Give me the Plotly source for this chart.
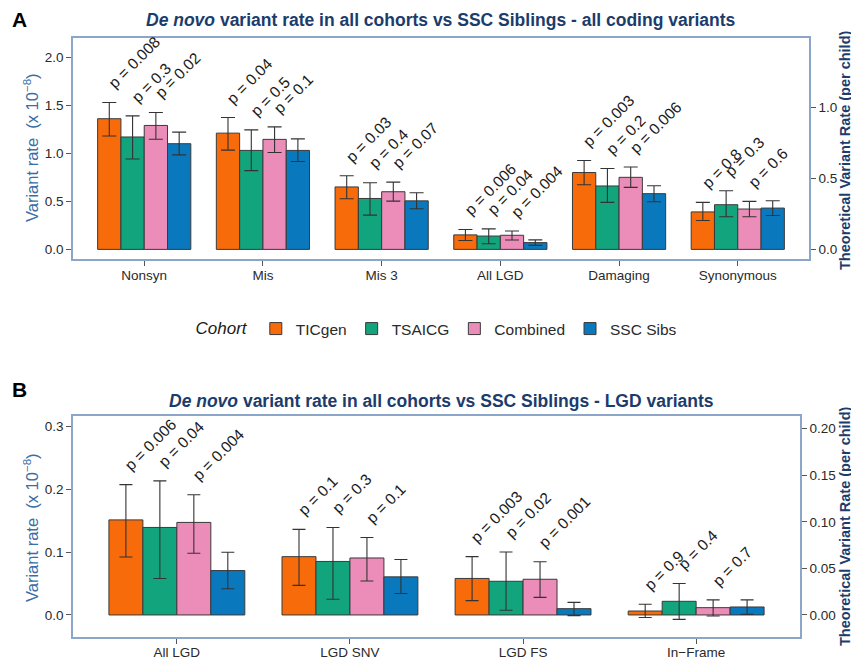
import plotly.graph_objects as go

# ---------------- data ----------------
cohorts = ["TICgen", "TSAICG", "Combined", "SSC Sibs"]
colors = ["#F76B0A", "#12A47C", "#EC8DB9", "#0A78BC"]

# Panel A: all coding variants
cats_A = ["Nonsyn", "Mis", "Mis 3", "All LGD", "Damaging", "Synonymous"]
rate_A_TICgen   = [1.36, 1.21, 0.65, 0.151, 0.80, 0.39]
rate_A_TSAICG   = [1.17, 1.03, 0.53, 0.139, 0.66, 0.465]
rate_A_Combined = [1.29, 1.145, 0.60, 0.147, 0.75, 0.42]
rate_A_SSC      = [1.10, 1.03, 0.505, 0.0705, 0.58, 0.43]
lo_A_TICgen   = [1.18, 1.033, 0.527, 0.092, 0.673, 0.30]
hi_A_TICgen   = [1.528, 1.372, 0.766, 0.207, 0.925, 0.489]
lo_A_TSAICG   = [0.94, 0.82, 0.357, 0.058, 0.489, 0.34]
hi_A_TSAICG   = [1.39, 1.244, 0.693, 0.213, 0.842, 0.61]
lo_A_Combined = [1.147, 1.008, 0.502, 0.098, 0.645, 0.34]
hi_A_Combined = [1.424, 1.275, 0.70, 0.191, 0.857, 0.50]
lo_A_SSC      = [0.984, 0.915, 0.423, 0.0416, 0.496, 0.353]
hi_A_SSC      = [1.22, 1.15, 0.589, 0.0995, 0.662, 0.506]
pvals_A = [
    ["p = 0.008", "p = 0.3", "p = 0.02"],
    ["p = 0.04", "p = 0.5", "p = 0.1"],
    ["p = 0.03", "p = 0.4", "p = 0.07"],
    ["p = 0.006", "p = 0.04", "p = 0.004"],
    ["p = 0.003", "p = 0.2", "p = 0.006"],
    ["p = 0.8", "p = 0.3", "p = 0.6"],
]

# Panel B: LGD variants
cats_B = ["All LGD", "LGD SNV", "LGD FS", "In\u2212Frame"]
rate_B_TICgen   = [0.151, 0.0926, 0.058, 0.0063]
rate_B_TSAICG   = [0.139, 0.085, 0.0535, 0.0217]
rate_B_Combined = [0.147, 0.0905, 0.0567, 0.0116]
rate_B_SSC      = [0.0705, 0.0605, 0.010, 0.0127]
lo_B_TICgen   = [0.092, 0.047, 0.0227, -0.004]
hi_B_TICgen   = [0.207, 0.136, 0.0926, 0.017]
lo_B_TSAICG   = [0.058, 0.025, 0.0075, -0.007]
hi_B_TSAICG   = [0.213, 0.139, 0.100, 0.050]
lo_B_Combined = [0.098, 0.054, 0.028, -0.0016]
hi_B_Combined = [0.191, 0.123, 0.0846, 0.024]
lo_B_SSC      = [0.0416, 0.034, -0.001, 0.001]
hi_B_SSC      = [0.0995, 0.088, 0.020, 0.024]
pvals_B = [
    ["p = 0.006", "p = 0.04", "p = 0.004"],
    ["p = 0.1", "p = 0.3", "p = 0.1"],
    ["p = 0.003", "p = 0.02", "p = 0.001"],
    ["p = 0.9", "p = 0.4", "p = 0.7"],
]

# theoretical per-child rate conversion (secondary axis)
sec_scale = 0.676
yrange_A = [-0.1, 2.2]
yrange_B = [-0.035, 0.316]

# ---------------- style ----------------
FONT = "Liberation Sans, Arial, sans-serif"
BORDER = "#8BA6C9"
TICKC = "#555555"
LABELC = "#2a2a2a"
NAVY = "#1C3C6C"
STEEL = "#3A6EA6"
BARGAP = 0.215
OFF = 8            # page body margin
W = 859 - OFF
H = 660 - OFF


def px(x):
    return (x - OFF) / W


def py(y):
    return 1 - (y - OFF) / H


rates_A = [rate_A_TICgen, rate_A_TSAICG, rate_A_Combined, rate_A_SSC]
los_A = [lo_A_TICgen, lo_A_TSAICG, lo_A_Combined, lo_A_SSC]
his_A = [hi_A_TICgen, hi_A_TSAICG, hi_A_Combined, hi_A_SSC]
rates_B = [rate_B_TICgen, rate_B_TSAICG, rate_B_Combined, rate_B_SSC]
los_B = [lo_B_TICgen, lo_B_TSAICG, lo_B_Combined, lo_B_SSC]
his_B = [hi_B_TICgen, hi_B_TSAICG, hi_B_Combined, hi_B_SSC]

fig = go.Figure()


def add_bars(cats, rates, los, his, xa, ya, ya2, show, capw):
    for j, name in enumerate(cohorts):
        v = rates[j]
        fig.add_trace(go.Bar(
            x=cats, y=v, name=name, legendgroup=name, showlegend=show,
            xaxis=xa, yaxis=ya,
            marker=dict(color=colors[j], line=dict(color="#3a3a3a", width=1)),
            error_y=dict(type="data", symmetric=False,
                         array=[h - a for h, a in zip(his[j], v)],
                         arrayminus=[a - l for a, l in zip(v, los[j])],
                         color="#333333", thickness=1.1, width=capw),
            hoverinfo="skip",
        ))
    # theoretical per-child rate on the secondary axis (invisible carrier)
    fig.add_trace(go.Scatter(
        x=cats, y=[v * sec_scale for v in rates[-1]], xaxis=xa, yaxis=ya2,
        mode="markers", marker=dict(opacity=0, size=1), showlegend=False,
        hoverinfo="skip"))


add_bars(cats_A, rates_A, los_A, his_A, "x", "y", "y2", True, 7)
add_bars(cats_B, rates_B, los_B, his_B, "x2", "y3", "y4", False, 6.5)

annotations = []
bw = (1 - BARGAP) / 4


def add_pvals(pvals, his, xref, yref):
    for ci, row in enumerate(pvals):
        for j, txt in enumerate(row):
            annotations.append(dict(
                x=ci + (j - 1.5) * bw, y=his[j][ci], xref=xref, yref=yref,
                text=txt, showarrow=False, textangle=-45,
                xanchor="left", yanchor="bottom", xshift=-7, yshift=8,
                font=dict(family=FONT, size=15.5, color="#1a1a1a"),
            ))


add_pvals(pvals_A, his_A, "x", "y")
add_pvals(pvals_B, his_B, "x2", "y3")

# panel letters and titles
annotations += [
    dict(x=px(10), y=py(19), xref="paper", yref="paper", text="<b>A</b>",
         showarrow=False, xanchor="left", yanchor="middle",
         font=dict(family=FONT, size=21, color="black")),
    dict(x=px(10), y=py(389), xref="paper", yref="paper", text="<b>B</b>",
         showarrow=False, xanchor="left", yanchor="middle",
         font=dict(family=FONT, size=21, color="black")),
    dict(x=px(441), y=py(20), xref="paper", yref="paper",
         text="<b><i>De novo</i> variant rate in all cohorts vs SSC Siblings - all coding variants</b>",
         showarrow=False, xanchor="center", yanchor="middle",
         font=dict(family=FONT, size=17.5, color=NAVY)),
    dict(x=px(441), y=py(401), xref="paper", yref="paper",
         text="<b><i>De novo</i> variant rate in all cohorts vs SSC Siblings - LGD variants</b>",
         showarrow=False, xanchor="center", yanchor="middle",
         font=dict(family=FONT, size=17.5, color=NAVY)),
]

# axis titles
for yc in (148, 528):
    annotations.append(dict(
        x=px(31), y=py(yc), xref="paper", yref="paper",
        text="Variant rate  (x 10<sup>\u22128</sup>)", textangle=-90,
        showarrow=False, xanchor="center", yanchor="middle",
        font=dict(family=FONT, size=16.5, color=STEEL)))
for xc, yc in ((845, 151), (845, 527)):
    annotations.append(dict(
        x=px(xc), y=py(yc), xref="paper", yref="paper",
        text="<b>Theoretical Variant Rate (per child)</b>", textangle=-90,
        showarrow=False, xanchor="center", yanchor="middle",
        font=dict(family=FONT, size=14.5, color=NAVY)))

axis_common = dict(showgrid=False, zeroline=False, showline=True, linecolor=BORDER,
                   linewidth=1.5, ticks="outside", ticklen=5, tickwidth=1,
                   tickcolor=TICKC, automargin=False,
                   tickfont=dict(family=FONT, size=13.5, color=LABELC))

xdomA = [px(73), px(809)]
xdomB = [px(73), px(800)]
ydomA = [py(259), py(38)]
ydomB = [py(637), py(416)]

fig.update_layout(
    width=W, height=H,
    margin=dict(l=0, r=0, t=0, b=0),
    paper_bgcolor="white", plot_bgcolor="white",
    barmode="group", bargap=BARGAP, bargroupgap=0,
    font=dict(family=FONT, color=LABELC),
    xaxis=dict(domain=xdomA, anchor="y", range=[-0.6, 5.6], mirror=True,
               type="category", ticklabelstandoff=-2, **axis_common),
    yaxis=dict(domain=ydomA, anchor="x", range=yrange_A, mirror=True,
               tickvals=[0, 0.5, 1.0, 1.5, 2.0], tickformat=".1f", **axis_common),
    yaxis2=dict(overlaying="y", side="right", anchor="x",
                range=[r * sec_scale for r in yrange_A],
                tickvals=[0, 0.5, 1.0], tickformat=".1f", **axis_common),
    xaxis2=dict(domain=xdomB, anchor="y3", range=[-0.6, 3.6], mirror=True,
                type="category", ticklabelstandoff=-3, **axis_common),
    yaxis3=dict(domain=ydomB, anchor="x2", range=yrange_B, mirror=True,
                tickvals=[0, 0.1, 0.2, 0.3], tickformat=".1f", **axis_common),
    yaxis4=dict(overlaying="y3", side="right", anchor="x2",
                range=[r * sec_scale for r in yrange_B],
                tickvals=[0, 0.05, 0.10, 0.15, 0.20], tickformat=".2f", **axis_common),
    legend=dict(orientation="h", x=px(438), xanchor="center", y=py(329),
                yanchor="middle", font=dict(family=FONT, size=15.5, color=LABELC),
                title=dict(text="<i>Cohort</i>", side="left",
                           font=dict(family=FONT, size=17, color="#1a1a1a")),
                itemwidth=30, bgcolor="rgba(0,0,0,0)"),
    annotations=annotations,
    showlegend=True,
)

fig.write_html("out.html")
